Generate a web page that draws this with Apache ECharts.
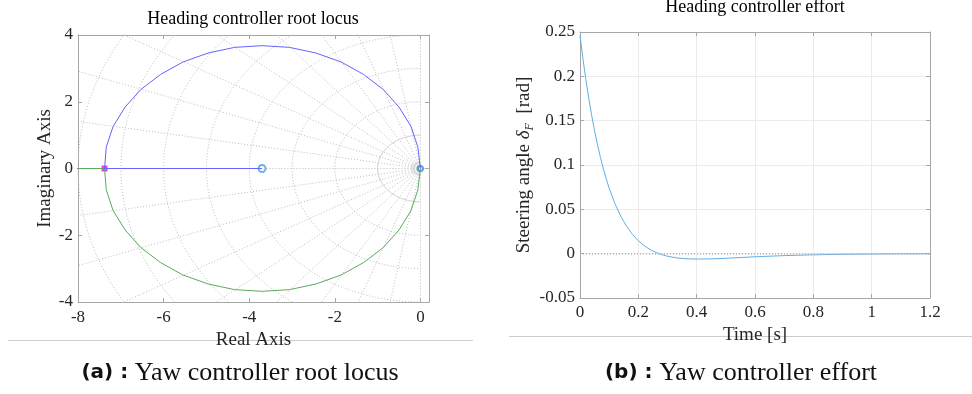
<!DOCTYPE html>
<html>
<head>
<meta charset="utf-8">
<script src="https://cdn.jsdelivr.net/npm/echarts@6/dist/echarts.min.js"></script>
<style>
  html, body { margin: 0; padding: 0; background: #fff; }
  #chart { width: 972px; height: 394px; }
</style>
</head>
<body>
<div id="chart"></div>
<script>
// root locus branches (real, imag)
const upperBranch = [
  [0, 0], [-0.06, 0.64], [-0.22, 1.26], [-0.5, 1.84], [-0.87, 2.37], [-1.33, 2.82],
  [-1.85, 3.19], [-2.44, 3.46], [-3.06, 3.63], [-3.7, 3.68], [-4.34, 3.63], [-4.96, 3.46],
  [-5.55, 3.19], [-6.07, 2.82], [-6.53, 2.37], [-6.9, 1.84], [-7.18, 1.26], [-7.34, 0.64],
  [-7.38, 0], [-3.7, 0]
];
const lowerBranch = [
  [0, 0], [-0.06, -0.64], [-0.22, -1.26], [-0.5, -1.84], [-0.87, -2.37], [-1.33, -2.82],
  [-1.85, -3.19], [-2.44, -3.46], [-3.06, -3.63], [-3.7, -3.68], [-4.34, -3.63], [-4.96, -3.46],
  [-5.55, -3.19], [-6.07, -2.82], [-6.53, -2.37], [-6.9, -1.84], [-7.18, -1.26], [-7.34, -0.64],
  [-7.38, 0], [-9, 0]
];
const closedLoopPoles = [[-7.38, 0]];
const openLoopZeros = [[-3.7, 0]];
const openLoopPoles = [[0, 0]];

// s-plane grid: damping angles (deg from negative real axis) and natural frequency circles
const dampAngles = [0, 10, 20, 30, 40, 50, 60, 70, 80, 90];
const wnDotted = [2, 3, 4, 5, 6, 7, 8];
const wnSolid = [0.05, 0.1, 0.15, 0.2, 1];

// controller effort
const timeS = [0, 0.01, 0.02, 0.03, 0.04, 0.05, 0.06, 0.07, 0.08, 0.09, 0.1, 0.12, 0.14, 0.16,
  0.18, 0.2, 0.22, 0.24, 0.26, 0.28, 0.3, 0.33, 0.36, 0.4, 0.45, 0.5, 0.6, 0.7, 0.8, 0.9, 1.0, 1.1, 1.2];
const steerRad = [0.246, 0.22, 0.1965, 0.1752, 0.1559, 0.1385, 0.1228, 0.1086, 0.0958, 0.0843,
  0.0739, 0.0563, 0.0421, 0.0307, 0.0217, 0.0146, 0.009, 0.0047, 0.0014, -0.0011, -0.0029,
  -0.0047, -0.0057, -0.0061, -0.0059, -0.0052, -0.0035, -0.0022, -0.0013, -0.0007, -0.0004,
  -0.0002, -0.0001];

const serif = '"Liberation Serif", "DejaVu Serif", serif';
const frameColor = '#a6a6a6';

function rayLines() {
  const out = [];
  dampAngles.forEach(function (a) {
    const t = a * Math.PI / 180;
    const L = 12;
    out.push({ coords: [[0, 0], [-L * Math.cos(t), L * Math.sin(t)]] });
    if (a > 0 && a < 90) out.push({ coords: [[0, 0], [-L * Math.cos(t), -L * Math.sin(t)]] });
  });
  out.push({ coords: [[0, 0], [1, 0]] });
  out.push({ coords: [[0, 0], [0, -6]] });
  return out;
}
function circleLines(radii) {
  return radii.map(function (r) {
    const pts = [];
    for (let d = 90; d <= 270; d += 2) {
      const t = d * Math.PI / 180;
      pts.push([r * Math.cos(t), r * Math.sin(t)]);
    }
    return { coords: pts };
  });
}

function frameAxis(extra) {
  return Object.assign({
    type: 'value',
    axisLine: { show: true, onZero: false, lineStyle: { color: frameColor, width: 1 } },
    axisTick: { show: true, inside: true, length: 4, lineStyle: { color: frameColor } },
    axisLabel: { show: false },
    splitLine: { show: false }
  }, extra);
}
const labelStyle = { show: true, fontFamily: serif, fontSize: 17, color: '#262626' };
const nameStyle = { fontFamily: serif, fontSize: 19, color: '#262626' };

const chart = echarts.init(document.getElementById('chart'));
const option = {
  animation: false,
  backgroundColor: '#fff',
  grid: [
    { left: 78, top: 35, width: 351, height: 267 },
    { left: 580, top: 32, width: 350, height: 266 }
  ],
  xAxis: [
    frameAxis({
      gridIndex: 0, position: 'bottom', min: -8, max: 0.2, interval: 2,
      axisLabel: Object.assign({ margin: 7, showMaxLabel: false }, labelStyle),
      name: 'Real Axis', nameLocation: 'middle', nameGap: 27, nameTextStyle: nameStyle
    }),
    frameAxis({ gridIndex: 0, position: 'top', min: -8, max: 0.2, interval: 2 }),
    frameAxis({
      gridIndex: 1, position: 'bottom', min: 0, max: 1.2, interval: 0.2,
      axisLabel: Object.assign({ margin: 6 }, labelStyle),
      splitLine: { show: true, lineStyle: { color: '#ebebeb', width: 1 } },
      name: 'Time [s]', nameLocation: 'middle', nameGap: 25, nameTextStyle: nameStyle
    }),
    frameAxis({ gridIndex: 1, position: 'top', min: 0, max: 1.2, interval: 0.2 })
  ],
  yAxis: [
    frameAxis({
      gridIndex: 0, position: 'left', min: -4, max: 4, interval: 2,
      axisLabel: Object.assign({ margin: 5 }, labelStyle),
      name: 'Imaginary Axis', nameLocation: 'middle', nameGap: 23, nameTextStyle: nameStyle
    }),
    frameAxis({ gridIndex: 0, position: 'right', min: -4, max: 4, interval: 2 }),
    frameAxis({
      gridIndex: 1, position: 'left', min: -0.05, max: 0.25, interval: 0.05,
      axisLabel: Object.assign({ margin: 5 }, labelStyle),
      splitLine: { show: true, lineStyle: { color: '#ebebeb', width: 1 } },
      name: '{t|Steering angle }{m|δ}{s|F}{t|  [rad]}', nameLocation: 'middle', nameGap: 42,
      nameTextStyle: {
        fontFamily: serif, fontSize: 19, color: '#262626',
        rich: {
          t: { fontFamily: serif, fontSize: 19, color: '#262626', lineHeight: 24 },
          m: { fontFamily: serif, fontSize: 19, fontStyle: 'italic', color: '#262626', lineHeight: 24 },
          s: { fontFamily: serif, fontSize: 12, fontStyle: 'italic', color: '#262626', lineHeight: 24, verticalAlign: 'bottom', padding: [6, 0, 0, 0] }
        }
      }
    }),
    frameAxis({ gridIndex: 1, position: 'right', min: -0.05, max: 0.25, interval: 0.05 })
  ],
  series: [
    {
      type: 'lines', coordinateSystem: 'cartesian2d', xAxisIndex: 0, yAxisIndex: 0,
      polyline: true, silent: true, clip: true,
      lineStyle: { color: '#bcbcbc', width: 1, type: [1, 2], opacity: 1 },
      data: rayLines().concat(circleLines(wnDotted))
    },
    {
      type: 'lines', coordinateSystem: 'cartesian2d', xAxisIndex: 0, yAxisIndex: 0,
      polyline: true, silent: true, clip: true,
      lineStyle: { color: '#cdcdcd', width: 1, type: 'solid', opacity: 1 },
      data: circleLines(wnSolid)
    },
    {
      type: 'line', xAxisIndex: 0, yAxisIndex: 0, data: lowerBranch,
      showSymbol: false, clip: true, lineStyle: { color: '#5caa5c', width: 1 }
    },
    {
      type: 'line', xAxisIndex: 0, yAxisIndex: 0, data: upperBranch,
      showSymbol: false, clip: true, lineStyle: { color: '#6464ff', width: 1 }
    },
    {
      type: 'scatter', xAxisIndex: 0, yAxisIndex: 0, data: openLoopZeros,
      symbol: 'emptyCircle', symbolSize: 7, itemStyle: { color: '#4a9ee0', borderWidth: 1 }
    },
    {
      type: 'scatter', xAxisIndex: 0, yAxisIndex: 0, data: openLoopPoles,
      symbol: 'emptyCircle', symbolSize: 5, itemStyle: { color: '#2f86d6', borderWidth: 1.5 }
    },
    {
      type: 'scatter', xAxisIndex: 0, yAxisIndex: 0, data: closedLoopPoles,
      symbol: 'rect', symbolSize: 6, itemStyle: { color: '#ff00ff' }
    },
    {
      type: 'line', xAxisIndex: 2, yAxisIndex: 2,
      data: timeS.map(function (t, i) { return [t, steerRad[i]]; }),
      showSymbol: false, clip: true, lineStyle: { color: '#62aee3', width: 1 },
      markLine: {
        silent: true, symbol: 'none', label: { show: false },
        lineStyle: { color: '#b5b5b5', type: [1, 2], width: 1.5 },
        data: [{ yAxis: 0 }]
      }
    }
  ],
  graphic: [
    { type: 'text', x: 253, y: 19, style: { text: 'Heading controller root locus', font: '18px ' + serif, fill: '#000', textAlign: 'center', textVerticalAlign: 'middle' } },
    { type: 'text', x: 755, y: 7, style: { text: 'Heading controller effort', font: '18px ' + serif, fill: '#000', textAlign: 'center', textVerticalAlign: 'middle' } },
    { type: 'line', shape: { x1: 8, y1: 340.5, x2: 473, y2: 340.5 }, style: { stroke: '#cccccc', lineWidth: 1 } },
    { type: 'line', shape: { x1: 509, y1: 336.5, x2: 972, y2: 336.5 }, style: { stroke: '#cccccc', lineWidth: 1 } },
    {
      type: 'text', x: 240, y: 373,
      style: {
        text: '{b|(a) :}  {t|Yaw controller root locus}', textAlign: 'center', textVerticalAlign: 'middle', fill: '#111',
        rich: {
          b: { fontFamily: '"DejaVu Sans", sans-serif', fontWeight: 'bold', fontSize: 20 },
          t: { fontFamily: serif, fontSize: 26 }
        }
      }
    },
    {
      type: 'text', x: 741, y: 373,
      style: {
        text: '{b|(b) :}  {t|Yaw controller effort}', textAlign: 'center', textVerticalAlign: 'middle', fill: '#111',
        rich: {
          b: { fontFamily: '"DejaVu Sans", sans-serif', fontWeight: 'bold', fontSize: 20 },
          t: { fontFamily: serif, fontSize: 26 }
        }
      }
    }
  ]
};
chart.setOption(option);
</script>
</body>
</html>
